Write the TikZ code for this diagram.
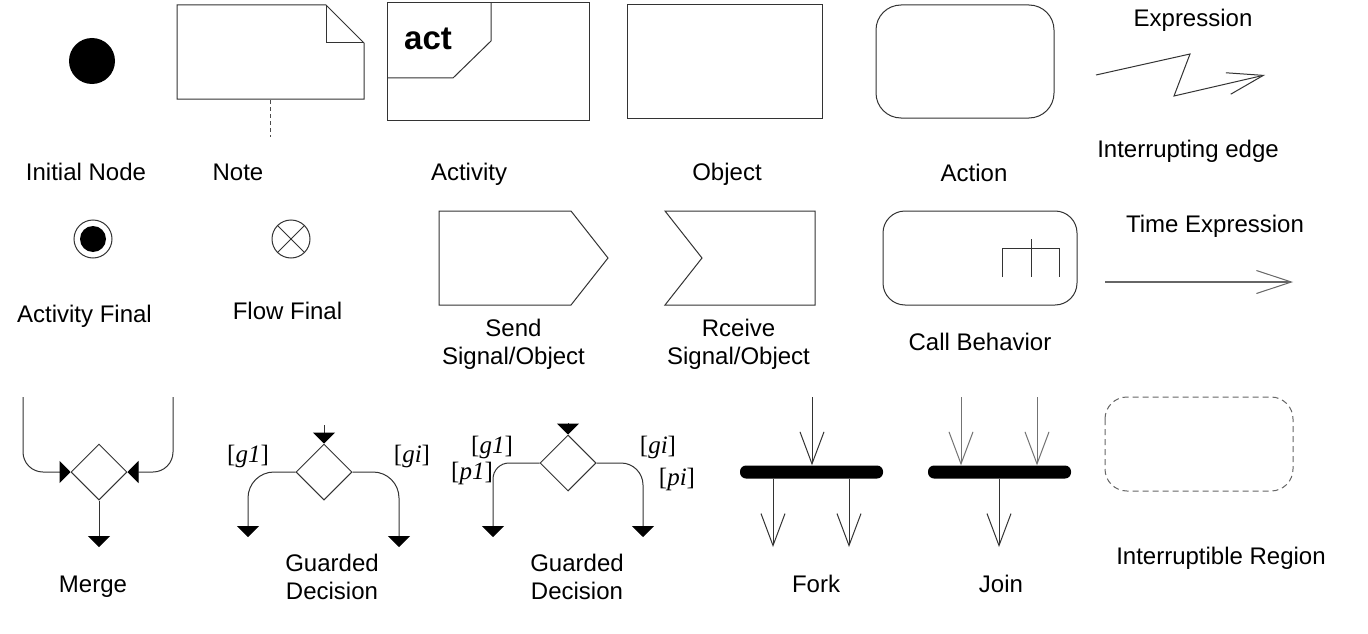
\documentclass[tikz,border=0pt]{standalone}
\usepackage{fontspec}
\setmainfont{Liberation Sans}
\newfontfamily\guardfont{Liberation Serif}
\newcommand{\gtxt}[1]{[{\itshape #1}]}
\usetikzlibrary{arrows.meta,shapes.geometric}
\begin{document}
\begin{tikzpicture}[x=1pt,y=-1pt,
  ln/.style={draw=black!80, line width=1pt},
  lbl/.style={font=\fontsize{24}{28}\selectfont, inner sep=0, anchor=base},
  lbltwo/.style={font=\fontsize{24}{28}\selectfont, inner sep=0, align=center},
  guard/.style={font=\guardfont\fontsize{25}{27}\selectfont, inner sep=0, anchor=base},
  ftri/.style={-{Triangle[length=11pt,width=22pt,fill=black,color=black]}},
  obarb/.style={-{Straight Barb[length=32pt,width=24pt]}},
  diam/.style={diamond, draw=black!80, line width=1pt, minimum width=56pt, minimum height=56pt, inner sep=0, aspect=1},
  syncbar/.style={fill=black, rounded corners=6pt, minimum width=143pt, minimum height=13pt, inner sep=0},
]
\useasboundingbox (0,0) rectangle (1368,634);
\fill[white] (0,0) rectangle (1368,634);

% ---------- Row 1 ----------
% Initial node
\node[circle, fill=black, minimum size=46pt, inner sep=0] (init) at (92,61) {};
\node[lbl] (initL) at (86,180) {Initial Node};

% Note
\draw[ln] (177,5) -- (326,5) -- (364,43) -- (364,99) -- (177,99) -- cycle;
\draw[ln] (326,5) -- (326,43) -- (364,43);
\coordinate (noteB) at (270,100);
\coordinate (noteE) at (270,137);
\draw[draw=black!70, line width=1pt, dash pattern=on 4pt off 3pt] (noteB) -- (noteE);
\node[lbl] (noteL) at (238,180) {Note};

% Activity
\draw[ln] (387,3) rectangle (589,120);
\draw[ln] (387,78) -- (453,78) -- (491,41) -- (491,3);
\node[font=\bfseries\fontsize{33}{33}\selectfont, inner sep=0, anchor=base] (act) at (428,50) {act};
\node[lbl] (actL) at (469,180) {Activity};

% Object
\draw[ln] (627,5) rectangle (822,118);
\node[lbl] (objL) at (727,180) {Object};

% Action
\draw[ln, rounded corners=25pt] (876,5) rectangle (1054,118);
\node[lbl] (actionL) at (974,181) {Action};

% Interrupting edge
\coordinate (ie0) at (1096,75);
\coordinate (ie1) at (1190,54);
\coordinate (ie2) at (1174,96);
\coordinate (ie3) at (1265,75);
\draw[ln, -{Straight Barb[length=36pt,width=22pt]}] (ie0) -- (ie1) -- (ie2) -- (ie3);
\node[lbl] (exprL) at (1193,27) {Expression};
\node[lbl] (intL) at (1188,157) {Interrupting edge};

% ---------- Row 2 ----------
% Activity final
\node[circle, draw=black!80, line width=1pt, minimum size=38pt, inner sep=0] (af) at (93,239) {};
\node[circle, fill=black, minimum size=26pt, inner sep=0] (afin) at (93,239) {};
\node[lbl] (afL) at (84.5,322) {Activity Final};

% Flow final
\node[circle, draw=black!80, line width=1pt, minimum size=38pt, inner sep=0] (ff) at (291,239) {};
\draw[ln] (ff.north west) -- (ff.south east);
\draw[ln] (ff.north east) -- (ff.south west);
\node[lbl] (ffL) at (287.5,319) {Flow Final};

% Send signal
\draw[ln] (439,211) -- (571,211) -- (608,258) -- (571,305) -- (439,305) -- cycle;
\node[lbltwo] (sendL) at (513.5,344) {Send\\Signal/Object};

% Receive signal
\draw[ln] (665,211) -- (815,211) -- (815,305) -- (665,305) -- (702,258) -- cycle;
\node[lbltwo] (recvL) at (738.5,344) {Rceive\\Signal/Object};

% Call behavior
\draw[ln, rounded corners=22pt] (883,211) rectangle (1077,305);
\draw[ln] (1002,277) -- (1002,248) -- (1059,248) -- (1059,277);
\draw[ln] (1031,239) -- (1031,277);
\node[lbl] (cbL) at (980,350) {Call Behavior};

% Time expression
\coordinate (te0) at (1105,282);
\coordinate (te1) at (1293,282);
\draw[draw=black!60, line width=1.6pt, -{Straight Barb[length=35pt,width=23pt,line width=1pt]}] (te0) -- (te1);
\node[lbl] (teL) at (1215,232) {Time Expression};

% ---------- Row 3 ----------
% Merge
\node[diam] (mg) at (99,472) {};
\coordinate (mgL) at (23,397);
\coordinate (mgR) at (173,397);
\coordinate (mgO) at (99,547);
\draw[ln, rounded corners=20pt, ftri] (mgL) |- (mg.west);
\draw[ln, rounded corners=20pt, ftri] (mgR) |- (mg.east);
\draw[ln, ftri] (mg.south) -- (mgO);
\node[lbl] (mgLb) at (93,592) {Merge};

% Guarded decision 1
\node[diam] (gd1) at (324,472) {};
\coordinate (gd1in) at (324,425);
\coordinate (gd1a) at (248,537);
\coordinate (gd1b) at (399,547);
\draw[ln, ftri] (gd1in) -- (gd1.north);
\draw[ln, rounded corners=26pt, ftri] (gd1.west) -| (gd1a);
\draw[ln, rounded corners=26pt, ftri] (gd1.east) -| (gd1b);
\node[guard] (g1a) at (248,462) {\gtxt{g1}};
\node[guard] (gia) at (412,462) {\gtxt{gi}};
\node[lbltwo] (gd1L) at (332,577) {Guarded\\Decision};

% Guarded decision 2
\node[diam] (gd2) at (568,463) {};
\coordinate (gd2in) at (568,423);
\coordinate (gd2a) at (493,537);
\coordinate (gd2b) at (643,537);
\draw[ln, ftri] (gd2in) -- (gd2.north);
\draw[ln, rounded corners=16pt, ftri] (gd2.west) -| (gd2a);
\draw[ln, rounded corners=22pt, ftri] (gd2.east) -| (gd2b);
\node[guard] (g1b) at (492,453) {\gtxt{g1}};
\node[guard] (p1b) at (472,479) {\gtxt{p1}};
\node[guard] (gib) at (658,453) {\gtxt{gi}};
\node[guard] (pib) at (677,485) {\gtxt{pi}};
\node[lbltwo] (gd2L) at (577,577) {Guarded\\Decision};

% Fork
\node[syncbar] (fork) at (811.5,472) {};
\coordinate (fkin) at (812,397);
\coordinate (fo1) at (773,547);
\coordinate (fo2) at (849,547);
\draw[ln, obarb] (fkin) -- (fkin |- fork.north);
\draw[ln, obarb] (fo1 |- fork.south) -- (fo1);
\draw[ln, obarb] (fo2 |- fork.south) -- (fo2);
\node[lbl] (forkL) at (816,592) {Fork};

% Join
\node[syncbar] (join) at (999.5,472) {};
\coordinate (ji1) at (961,397);
\coordinate (ji2) at (1037,397);
\coordinate (jo) at (999,547);
\draw[draw=black!55, line width=1pt, obarb] (ji1) -- (ji1 |- join.north);
\draw[draw=black!55, line width=1pt, obarb] (ji2) -- (ji2 |- join.north);
\draw[ln, obarb] (jo |- join.south) -- (jo);
\node[lbl] (joinL) at (1001,592) {Join};

% Interruptible region
\draw[draw=black!60, line width=1pt, dash pattern=on 6pt off 4pt, rounded corners=22pt] (1105,397) rectangle (1293,491);
\node[lbl] (irL) at (1221,564) {Interruptible Region};
\end{tikzpicture}
\end{document}
